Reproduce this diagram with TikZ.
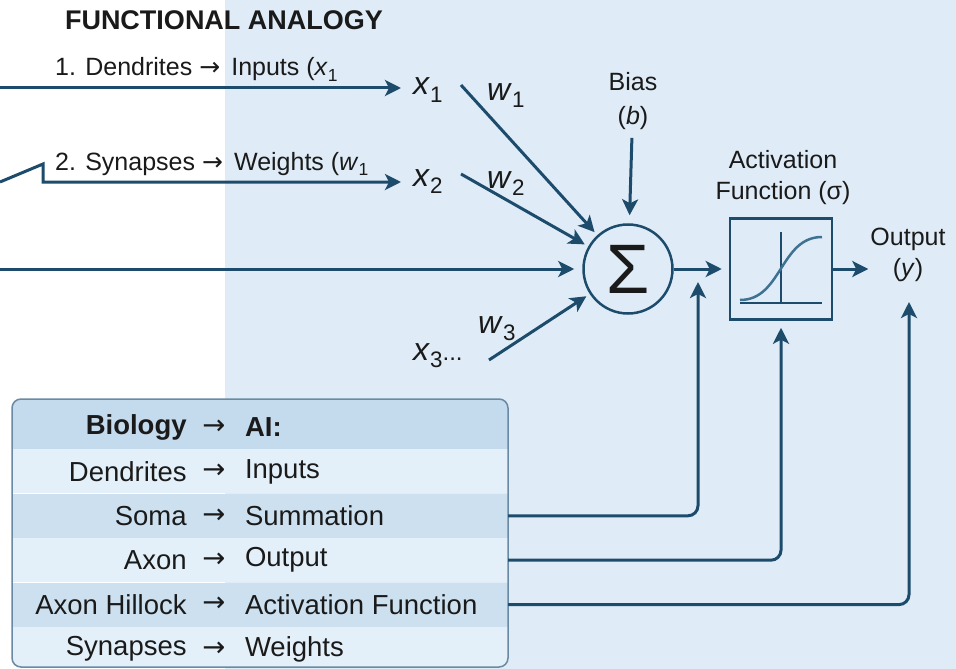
\documentclass[tikz,border=0pt]{standalone}
\usepackage{fontspec}
\setmainfont{Liberation Sans}
\newfontfamily\arrowfont{DejaVu Sans}
\usepackage{tikz,xcolor,graphicx}
\usetikzlibrary{arrows.meta,positioning}
\definecolor{navy}{HTML}{1D4B6B}
\definecolor{bgblue}{HTML}{DFECF7}
\definecolor{inkc}{HTML}{1A1A1A}
\definecolor{headfill}{HTML}{C4DAED}
\definecolor{darkfill}{HTML}{CCE0F0}
\definecolor{lightfill}{HTML}{E4F0F9}
\definecolor{tabframe}{HTML}{6A8AA4}
\definecolor{curvec}{HTML}{3F7193}
\tikzstyle{arrow} = [line width=3pt,draw=navy,-{Stealth[length=16pt,width=16pt,inset=4pt]}]
\tikzstyle{lbl} = [inner sep=0pt,text=inkc,font=\fontsize{25}{31}\selectfont]
\tikzstyle{var} = [inner sep=0pt,text=inkc,font=\fontsize{32}{36}\selectfont]
\tikzstyle{rowband} = [minimum width=496pt,minimum height=44pt,inner sep=0pt]
\tikzstyle{rowtext} = [inner sep=0pt,text=inkc,font=\fontsize{27.5}{30}\selectfont]
\newcommand\varsub[2]{\textit{#1}\raisebox{-0.22em}{\scalebox{0.7}{#2}}}
\newcommand\toarrow{{\arrowfont →}}

\begin{document}
\begin{tikzpicture}[x=1pt,y=-1pt]
    \useasboundingbox (0,0) rectangle (956,669);
    \fill[white] (0,0) rectangle (225,669);
    \fill[bgblue] (225,0) rectangle (956,669);
    % create the nodes
    \node (title) [lbl, font=\fontsize{27}{31}\selectfont\bfseries] at (224,20) {FUNCTIONAL ANALOGY};
    \node (lab1) [lbl, anchor=base west] at (55,76) {1. Dendrites \toarrow\,\ Inputs (\varsub{x}{1}};
    \node (lab2) [lbl, anchor=base west] at (55,170) {2. Synapses \toarrow\,\ Weights (\varsub{w}{1}};
    \node (x1) [var, anchor=base west] at (413,95) {\varsub{x}{1}};
    \node (x2) [var, anchor=base west] at (413,186) {\varsub{x}{2}};
    \node (x3) [var, anchor=base west] at (413,360) {\varsub{x}{3}\scalebox{0.75}{...}};
    \node (w1) [var, anchor=base west] at (487,100) {\varsub{w}{1}};
    \node (w2) [var, anchor=base west] at (487,188) {\varsub{w}{2}};
    \node (w3) [var, anchor=base west] at (478,333) {\varsub{w}{3}};
    \node (sum) [circle, draw=navy, line width=2.5pt, minimum size=89pt, inner sep=0pt, text=inkc, font=\fontsize{70}{70}\selectfont] at (628,269) {Σ};
    \node (bias) [lbl, align=center] at (633,101) {Bias\\[3pt](\textit{b})};
    \node (act) [draw=navy, line width=2.5pt, minimum width=102pt, minimum height=101pt] at (781,269) {};
    \node (actlbl) [lbl, align=center] at (783,178) {Activation\\Function (σ)};
    \node (outlbl) [lbl, align=center] at (908,255) {Output\\(\textit{y})};
    % sigmoid in the box
    \draw[navy, line width=1.5pt] (740,303) -- (822,303);
    \draw[navy, line width=1.5pt] (781,232) -- (781,303);
    \draw[curvec, line width=2.5pt] (740,300) .. controls (782,300) and (780,237) .. (822,237);
    % mapping table
    \begin{scope}
        \clip[rounded corners=9pt] (12,399) rectangle (508,667);
        \node (rowhead) [rowband, minimum height=50pt, fill=headfill] at (260,424) {};
        \node (rowdend) [rowband, fill=lightfill, below=0pt of rowhead] {};
        \node (rowsoma) [rowband, fill=darkfill, below=0pt of rowdend] {};
        \node (rowaxon) [rowband, fill=lightfill, below=0pt of rowsoma] {};
        \node (rowhill) [rowband, fill=darkfill, below=0pt of rowaxon] {};
        \node (rowsyn) [rowband, fill=lightfill, below=0pt of rowhill] {};
    \end{scope}
    \draw[tabframe, line width=1.5pt, rounded corners=9pt] (12,399) rectangle (508,667);
    \node (headbio) [rowtext, anchor=east, font=\fontsize{27.5}{30}\selectfont\bfseries] at ([xshift=175pt,yshift=-3pt]rowhead.west) {Biology};
    \node (headarr) [rowtext] at ([xshift=202pt,yshift=-3pt]rowhead.west) {\toarrow};
    \node (headai) [rowtext, anchor=west, font=\fontsize{27.5}{30}\selectfont\bfseries] at ([xshift=233pt,yshift=-3pt]rowhead.west) {AI:};
    \node (dendbio) [rowtext, anchor=east] at ([xshift=175pt]rowdend.west) {Dendrites};
    \node (dendarr) [rowtext] at ([xshift=202pt]rowdend.west) {\toarrow};
    \node (dendai) [rowtext, anchor=west] at ([xshift=233pt]rowdend.west) {Inputs};
    \node (somabio) [rowtext, anchor=east] at ([xshift=175pt]rowsoma.west) {Soma};
    \node (somaarr) [rowtext] at ([xshift=202pt]rowsoma.west) {\toarrow};
    \node (somaai) [rowtext, anchor=west] at ([xshift=233pt]rowsoma.west) {Summation};
    \node (axonbio) [rowtext, anchor=east] at ([xshift=175pt]rowaxon.west) {Axon};
    \node (axonarr) [rowtext] at ([xshift=202pt]rowaxon.west) {\toarrow};
    \node (axonai) [rowtext, anchor=west] at ([xshift=233pt]rowaxon.west) {Output};
    \node (hillbio) [rowtext, anchor=east] at ([xshift=175pt]rowhill.west) {Axon Hillock};
    \node (hillarr) [rowtext] at ([xshift=202pt]rowhill.west) {\toarrow};
    \node (hillai) [rowtext, anchor=west] at ([xshift=233pt]rowhill.west) {Activation Function};
    \node (synbio) [rowtext, anchor=east] at ([xshift=175pt]rowsyn.west) {Synapses};
    \node (synarr) [rowtext] at ([xshift=202pt]rowsyn.west) {\toarrow};
    \node (synai) [rowtext, anchor=west] at ([xshift=233pt]rowsyn.west) {Weights};
    % free ends
    \coordinate (dendin) at (0,88);
    \coordinate (synin) at (0,182);
    \coordinate (somain) at (0,269);
    \coordinate (w1s) at (461,85);
    \coordinate (w2s) at (461,174);
    \coordinate (w3s) at (489,360);
    \coordinate (sumup) at (698,282);
    \coordinate (outup) at (909,302);
    % connect the nodes
    \draw[arrow, shorten >=12pt] (dendin) -- (dendin -| x1.west);
    \draw[arrow, shorten >=12pt] (synin) -- ++(43,-18) -- ++(0,18) -- (synin -| x2.west);
    \draw[arrow, shorten >=8pt] (somain) -- (sum);
    \draw[arrow, shorten >=4pt] (w1s) -- (sum);
    \draw[arrow, shorten >=4pt] (w2s) -- (sum);
    \draw[arrow, shorten >=4pt] (w3s) -- (sum);
    \draw[arrow, shorten <=8pt, shorten >=8pt] (bias) -- (sum);
    \draw[arrow, shorten >=7pt] (sum) -- (act);
    \draw[arrow, shorten >=2pt] (act.east) -- (act.east -| outlbl.west);
    \draw[arrow, rounded corners=10pt] (rowsoma.east) -| (sumup);
    \draw[arrow, rounded corners=10pt, shorten >=7pt] (rowaxon.east) -| (act.south);
    \draw[arrow, rounded corners=10pt] (rowhill.east) -| (outup);
\end{tikzpicture}
\end{document}
